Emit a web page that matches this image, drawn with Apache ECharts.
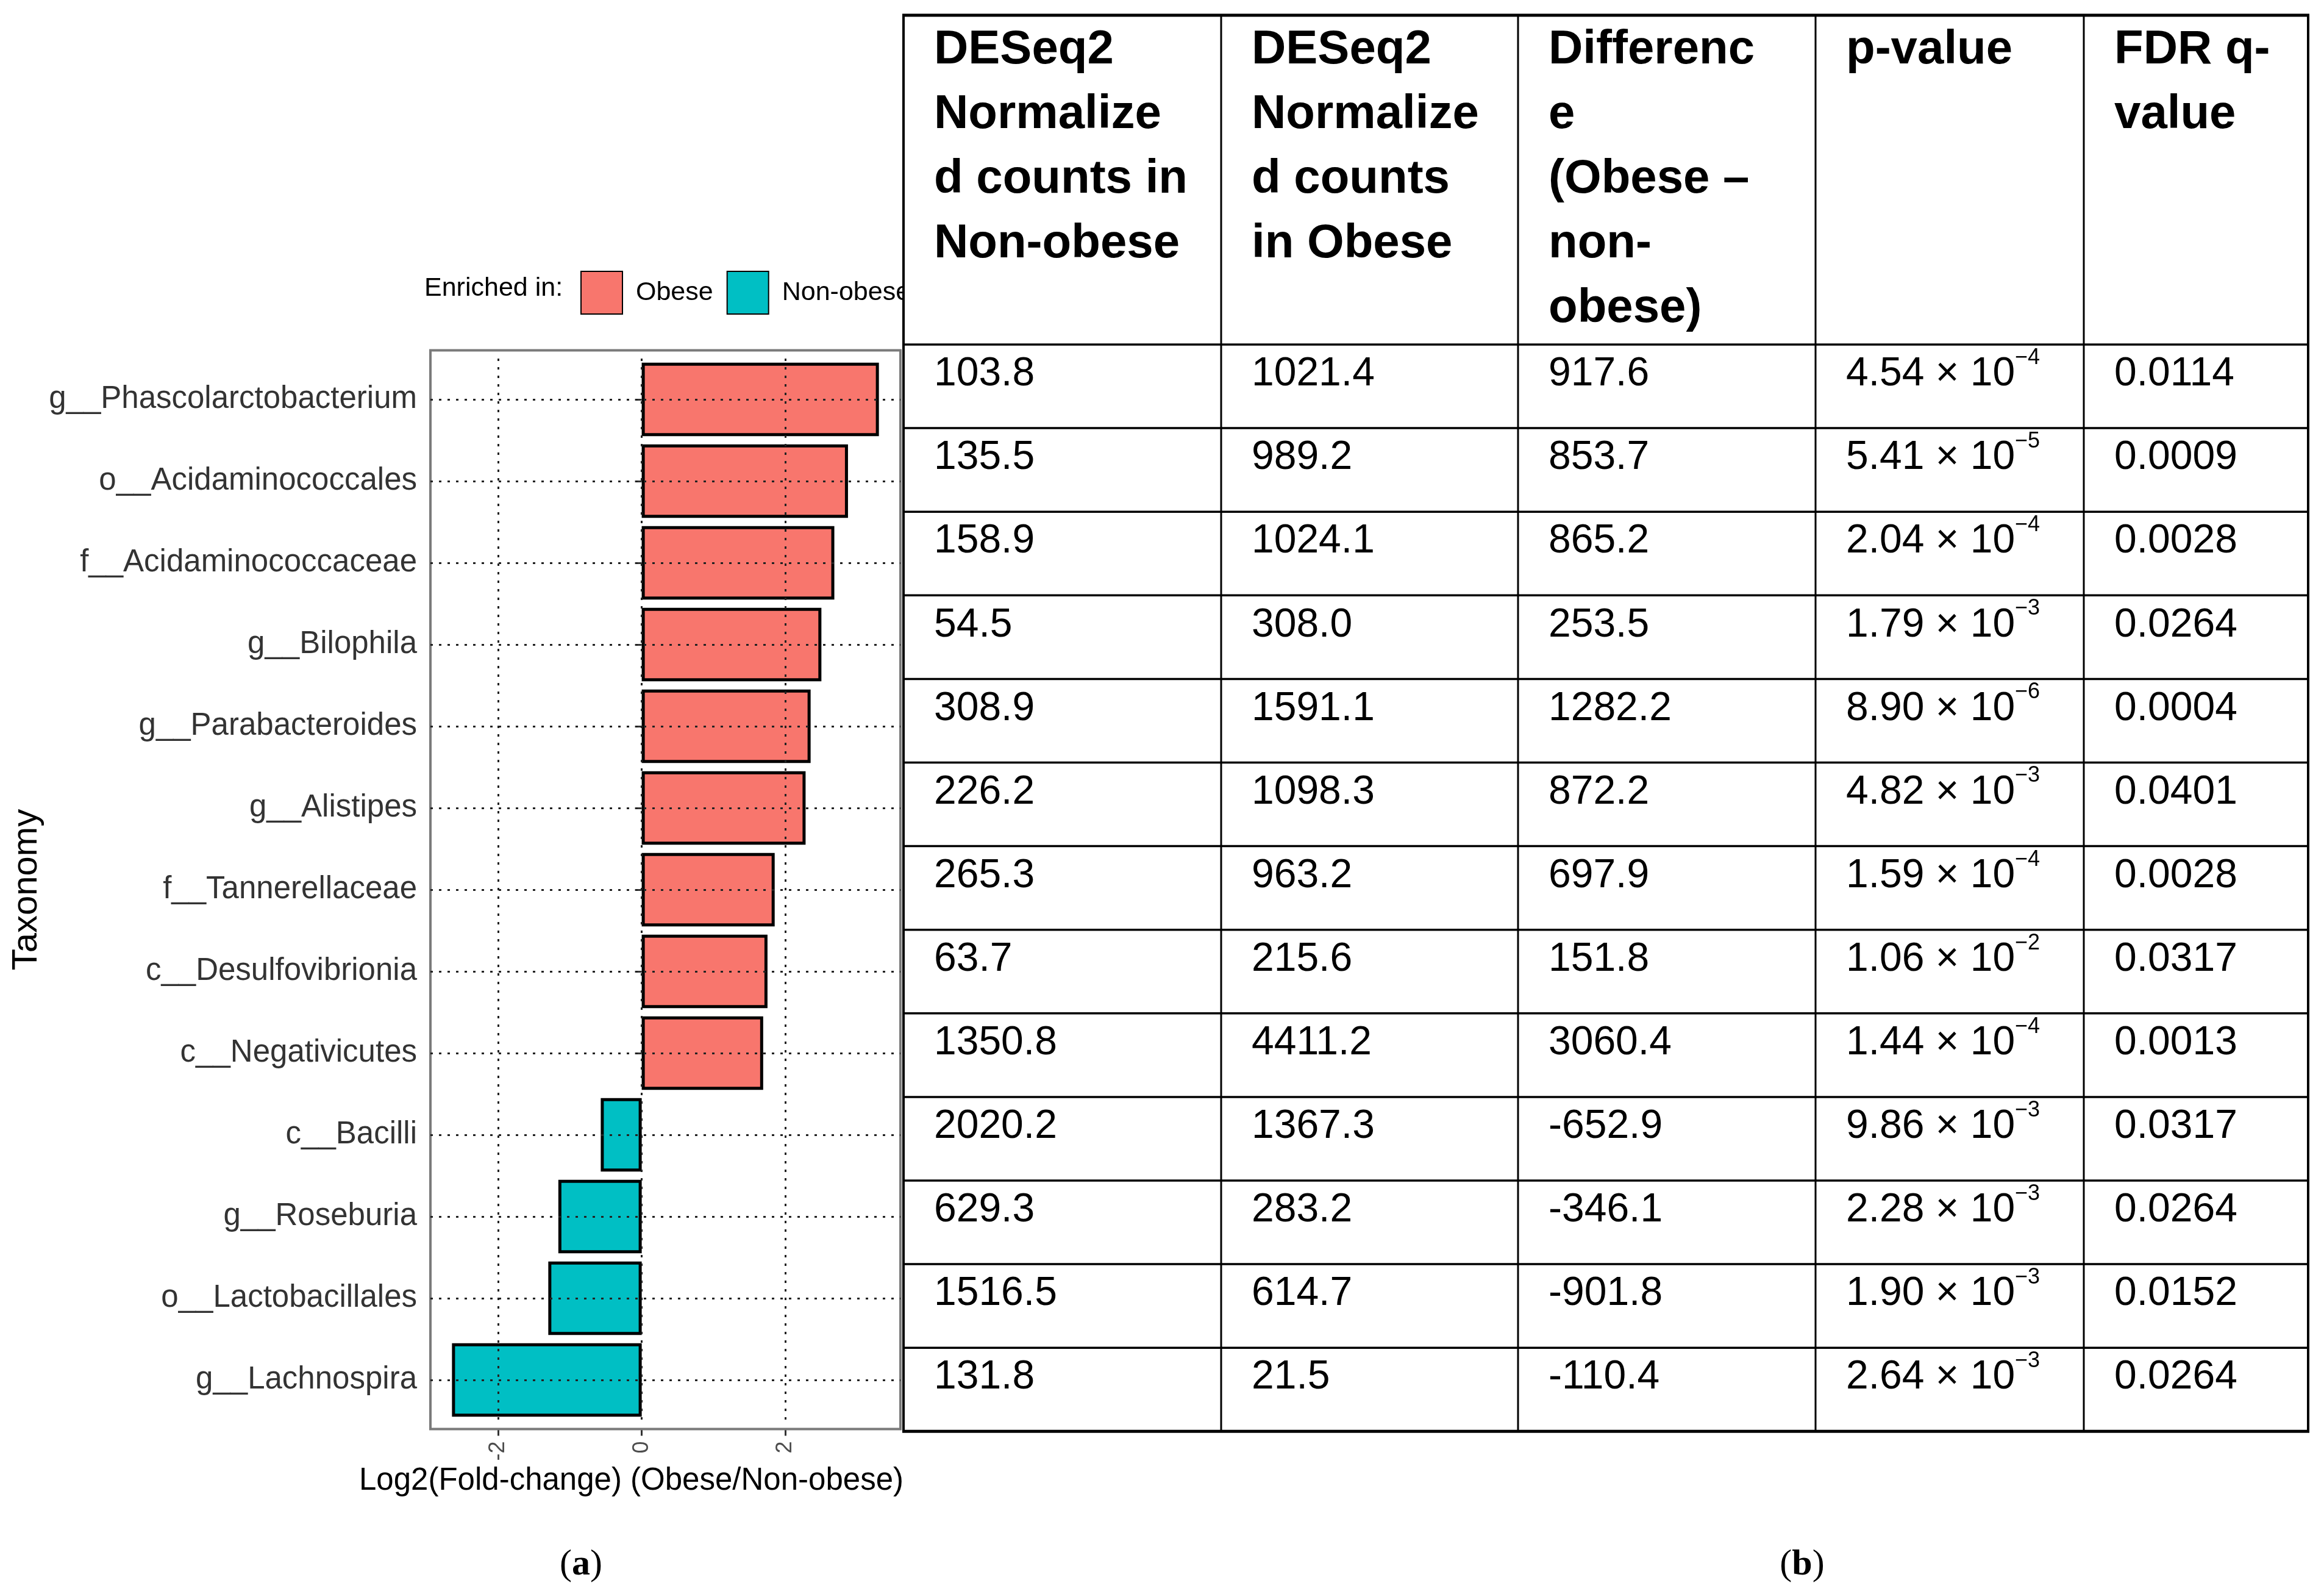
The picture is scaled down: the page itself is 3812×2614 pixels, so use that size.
<!DOCTYPE html>
<html>
<head>
<meta charset="utf-8">
<script src="https://cdn.jsdelivr.net/npm/echarts@6/dist/echarts.min.js"></script>
<style>
html,body{margin:0;padding:0;background:#fff;}
#chart{width:3812px;height:2614px;}
</style>
</head>
<body>
<div id="chart"></div>
<script>
// ---------------- data ----------------
const categories = [
  'g__Phascolarctobacterium', 'o__Acidaminococcales', 'f__Acidaminococcaceae',
  'g__Bilophila', 'g__Parabacteroides', 'g__Alistipes', 'f__Tannerellaceae',
  'c__Desulfovibrionia', 'c__Negativicutes', 'c__Bacilli', 'g__Roseburia',
  'o__Lactobacillales', 'g__Lachnospira'
];
const log2FoldChange = [3.30, 2.87, 2.68, 2.50, 2.35, 2.28, 1.85, 1.75, 1.69, -0.57, -1.16, -1.30, -2.64];
const xTickValues = [-2, 0, 2];
const groups = ['Obese', 'Non-obese'];
const groupColors = ['#F8766D', '#00BFC4'];
const legendTitle = 'Enriched in:';
const xAxisTitle = 'Log2(Fold-change) (Obese/Non-obese)';
const yAxisTitle = 'Taxonomy';

const tableHeaders = [
  ['DESeq2', 'Normalize', 'd counts in', 'Non-obese'],
  ['DESeq2', 'Normalize', 'd counts', 'in Obese'],
  ['Differenc', 'e', '(Obese \u2013', 'non-', 'obese)'],
  ['p-value'],
  ['FDR q-', 'value']
];
const countsNonObese = ['103.8', '135.5', '158.9', '54.5', '308.9', '226.2', '265.3', '63.7', '1350.8', '2020.2', '629.3', '1516.5', '131.8'];
const countsObese = ['1021.4', '989.2', '1024.1', '308.0', '1591.1', '1098.3', '963.2', '215.6', '4411.2', '1367.3', '283.2', '614.7', '21.5'];
const differences = ['917.6', '853.7', '865.2', '253.5', '1282.2', '872.2', '697.9', '151.8', '3060.4', '-652.9', '-346.1', '-901.8', '-110.4'];
const pMantissa = ['4.54', '5.41', '2.04', '1.79', '8.90', '4.82', '1.59', '1.06', '1.44', '9.86', '2.28', '1.90', '2.64'];
const pExponent = ['4', '5', '4', '3', '6', '3', '4', '2', '4', '3', '3', '3', '3'];
const fdrQ = ['0.0114', '0.0009', '0.0028', '0.0264', '0.0004', '0.0401', '0.0028', '0.0317', '0.0013', '0.0317', '0.0264', '0.0152', '0.0264'];
const panelLetters = ['a', 'b'];

// ---------------- layout ----------------
const FONT = '"Liberation Sans", Arial, Helvetica, sans-serif';
const SERIF = '"Liberation Serif", "Times New Roman", serif';
const gridLeft = 706, gridWidth = 771;
const band = 134;
const gridTop = 588, gridHeight = band * categories.length;
const panelPad = band * 0.1;

const chart = echarts.init(document.getElementById('chart'), null, {renderer: 'canvas'});

const dotted = {color: '#222', width: 3, type: [4, 10]};

const graphics = [];
// panel border
graphics.push({
  type: 'rect', z: 5, silent: true,
  shape: {x: gridLeft, y: gridTop - panelPad, width: gridWidth, height: gridHeight + 2 * panelPad},
  style: {fill: null, stroke: '#7a7a7a', lineWidth: 4}
});
// legend title
graphics.push({
  type: 'text', left: 696, top: 452, z: 5,
  style: {text: legendTitle, font: '43px ' + FONT, fill: '#000'}
});

// ---------------- table ----------------
const colX = [1482, 2003, 2490, 2978, 3418, 3786];
const tTop = 25, headBottom = 565, rowH = 137.1;
const tBottom = headBottom + rowH * countsNonObese.length;
const TZ = 50;
graphics.push({type: 'rect', z: TZ, silent: true,
  shape: {x: colX[0], y: tTop, width: colX[5] - colX[0], height: tBottom - tTop},
  style: {fill: '#fff', stroke: null}});
const pad = 50;
tableHeaders.forEach((lines, c) => {
  lines.forEach((ln, i) => {
    graphics.push({type: 'text', z: TZ + 2, silent: true, x: colX[c] + pad, y: 82 + 106 * i,
      style: {text: ln, font: 'bold 78px ' + FONT, fill: '#000', verticalAlign: 'middle', align: 'left'}});
  });
});
const cols = [countsNonObese, countsObese, differences];
for (let r = 0; r < countsNonObese.length; r++) {
  const cy = headBottom + r * rowH + 49;
  cols.forEach((arr, c) => {
    graphics.push({type: 'text', z: TZ + 2, silent: true, x: colX[c] + pad, y: cy,
      style: {text: arr[r], font: '66px ' + FONT, fill: '#000', verticalAlign: 'middle', align: 'left'}});
  });
  graphics.push({type: 'text', z: TZ + 2, silent: true, x: colX[3] + pad, y: cy,
    style: {
      text: '{m|' + pMantissa[r] + ' \u00d7 10}{s|\u2212' + pExponent[r] + '}',
      verticalAlign: 'middle', align: 'left',
      rich: {
        m: {fontSize: 66, fontFamily: FONT, lineHeight: 90, fill: '#000'},
        s: {fontSize: 36, fontFamily: FONT, lineHeight: 42, verticalAlign: 'top', fill: '#000'}
      }
    }});
  graphics.push({type: 'text', z: TZ + 2, silent: true, x: colX[4] + pad, y: cy,
    style: {text: fdrQ[r], font: '66px ' + FONT, fill: '#000', verticalAlign: 'middle', align: 'left'}});
}
// horizontal table lines
const hLines = [tTop, headBottom];
for (let r = 1; r <= countsNonObese.length; r++) hLines.push(headBottom + r * rowH);
hLines.forEach((y, i) => {
  const outer = (i === 0 || i === hLines.length - 1);
  graphics.push({type: 'line', z: TZ + 1, silent: true,
    shape: {x1: colX[0] - 2, y1: y, x2: colX[5] + 2, y2: y},
    style: {stroke: '#000', lineWidth: outer ? 5 : 3.5}});
});
colX.forEach((x, i) => {
  const outer = (i === 0 || i === colX.length - 1);
  graphics.push({type: 'line', z: TZ + 1, silent: true,
    shape: {x1: x, y1: tTop, x2: x, y2: tBottom},
    style: {stroke: '#000', lineWidth: outer ? 4 : 3}});
});
// panel labels
[[953, panelLetters[0]], [2956, panelLetters[1]]].forEach(([x, l]) => {
  graphics.push({type: 'text', z: 5, silent: true, x: x, y: 2566,
    style: {
      text: '{p|(}{l|' + l + '}{p|)}',
      align: 'center', verticalAlign: 'middle',
      rich: {
        p: {fontSize: 60, fontFamily: SERIF, fill: '#000'},
        l: {fontSize: 60, fontFamily: SERIF, fontWeight: 'bold', fill: '#000'}
      }
    }});
});

const obeseData = log2FoldChange.map(v => (v > 0 ? v : '-'));
const nonObeseData = log2FoldChange.map(v => (v < 0 ? v : '-'));

const gridLineData = categories.map(c => ({yAxis: c})).concat(xTickValues.map(v => ({xAxis: v})));

chart.setOption({
  animation: false,
  backgroundColor: '#fff',
  textStyle: {fontFamily: FONT},
  grid: {left: gridLeft, top: gridTop, width: gridWidth, height: gridHeight, containLabel: false},
  legend: {
    data: groups,
    left: 947, top: 439,
    itemWidth: 68, itemHeight: 70, itemGap: 22,
    icon: 'rect',
    textStyle: {fontSize: 43, color: '#000', fontFamily: FONT, padding: [0, 0, 0, 17]},
    selectedMode: false
  },
  xAxis: {
    type: 'value', min: -2.94, max: 3.60,
    offset: panelPad,
    axisLine: {show: false},
    splitLine: {show: false},
    axisTick: {show: true, customValues: xTickValues, length: 11, lineStyle: {color: '#333', width: 3}},
    axisLabel: {customValues: xTickValues, rotate: 90, fontSize: 36, color: '#4D4D4D', margin: 20, fontFamily: FONT},
    name: xAxisTitle, nameLocation: 'middle', nameGap: 58,
    nameTextStyle: {fontSize: 51, color: '#000', fontFamily: FONT, padding: [0, 112, 0, 0]}
  },
  yAxis: {
    type: 'category', data: categories, inverse: true,
    axisLine: {show: false},
    axisTick: {show: true, alignWithLabel: true, length: 11, lineStyle: {color: '#333', width: 3}},
    axisLabel: {fontSize: 51, color: '#333', margin: 22, fontFamily: FONT},
    splitLine: {show: false},
    name: yAxisTitle, nameLocation: 'middle', nameRotate: 90, nameGap: 633,
    nameTextStyle: {fontSize: 58, color: '#000', fontFamily: FONT}
  },
  series: [
    {
      type: 'line', name: 'gridlines', data: [], z: 1, silent: true,
      markLine: {
        silent: true, symbol: ['none', 'none'], label: {show: false},
        lineStyle: dotted, emphasis: {disabled: true},
        data: gridLineData
      }
    },
    {
      type: 'bar', name: groups[0], data: obeseData, z: 3,
      barWidth: '90%', barGap: '-100%',
      itemStyle: {color: groupColors[0], borderColor: '#000', borderWidth: 5}
    },
    {
      type: 'bar', name: groups[1], data: nonObeseData, z: 3,
      barWidth: '90%', barGap: '-100%',
      itemStyle: {color: groupColors[1], borderColor: '#000', borderWidth: 5}
    }
  ],
  graphic: {elements: graphics}
});
</script>
</body>
</html>
